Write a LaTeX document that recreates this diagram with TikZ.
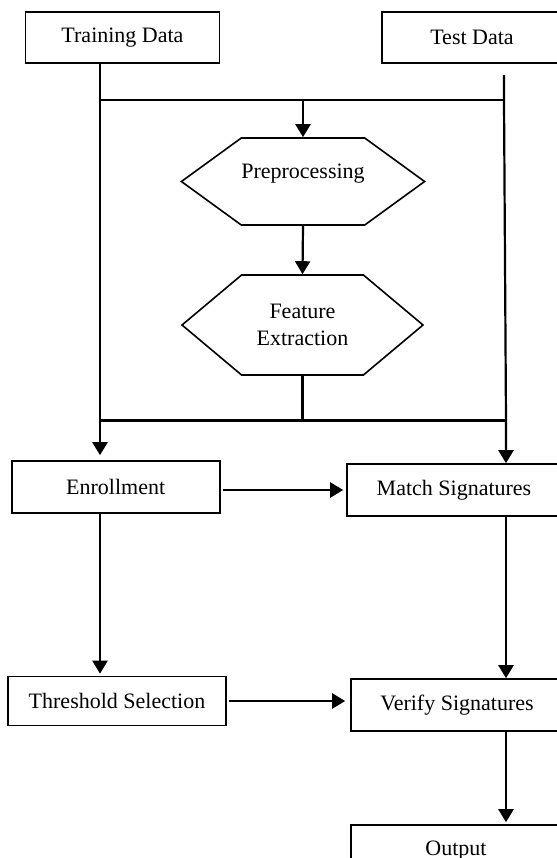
\documentclass[tikz,border=0pt]{standalone}
\usepackage{fontspec}
\setmainfont{Liberation Serif}
\usetikzlibrary{shapes.symbols,arrows.meta}
\begin{document}
\begin{tikzpicture}[
x=0.5pt,y=-0.5pt,
font=\fontsize{11}{13.5}\selectfont,
blk/.style={
	rectangle,draw=black,line width=0.8pt,inner sep=0pt},
hex/.style={
	signal,signal to=west and east,signal from=nowhere,
	draw=black,line width=0.8pt,inner sep=0pt,align=center},
arr/.style={-{Triangle[width=7.5pt,length=6.5pt]},line width=1.1pt},
bus/.style={line width=1.1pt}
]
\useasboundingbox (0,0) rectangle (557,858);
\clip (0,0) rectangle (557,858);
\node[blk,minimum width=97pt,minimum height=25.5pt] (train) at (122.5,37.5) {Training Data};
\node[blk,minimum width=90pt,minimum height=25.5pt] (test) at (472,37.5) {Test Data};
\node[hex,minimum width=120pt,minimum height=43.5pt,signal pointer angle=72,text depth=10pt] (pre) at (303,181.5) {Preprocessing};
\node[hex,minimum width=120.5pt,minimum height=50pt,signal pointer angle=80] (feat) at (302.5,325) {Feature\\Extraction};
\node[blk,minimum width=104pt,minimum height=26pt] (enroll) at (115.7,487) {Enrollment};
\node[blk,minimum width=107pt,minimum height=26pt] (match) at (454,490) {Match Signatures};
\node[blk,minimum width=109pt,minimum height=24.5pt] (thresh) at (117,701) {Threshold Selection};
\node[blk,minimum width=106pt,minimum height=26pt] (verify) at (457,705) {Verify Signatures};
\node[blk,minimum width=105pt,minimum height=26pt] (output) at (456,851) {Output};
\coordinate (lx) at (100,0);
\coordinate (rx) at (506,0);
\coordinate (rtop) at (504,75);
\coordinate (split) at (303,100);
\coordinate (join) at (302.5,420.5);
\draw[bus] (lx |- split) -- (rtop |- split);
\draw[arr] (rtop) -- (rtop |- split) -- (rx |- join) -- (rx |- match.north);
\draw[arr] (split) -- (pre.north);
\draw[arr] (pre.south) -- (feat.north);
\draw[bus] (feat.south) -- (join);
\draw[bus] (lx |- join) -- (rx |- join);
\draw[arr,shorten >=2.5pt] (train.south -| lx) -- (lx |- enroll.north);
\draw[arr,shorten <=1pt,shorten >=1.5pt] (enroll.east |- match.west) -- (match.west);
\draw[arr,shorten >=1pt] (enroll.south -| lx) -- (lx |- thresh.north);
\draw[arr,shorten <=1pt,shorten >=2.5pt] (thresh.east) -- (thresh.east -| verify.west);
\draw[arr] (match.south -| rx) -- (rx |- verify.north);
\draw[arr,shorten >=1pt] (verify.south -| rx) -- (rx |- output.north);
\end{tikzpicture}
\end{document}
